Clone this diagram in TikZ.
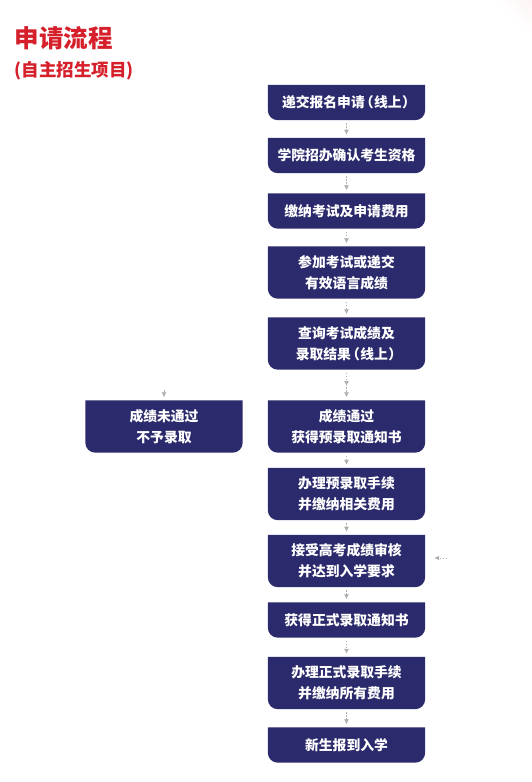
\documentclass[tikz,border=0pt]{standalone}
\usepackage{fontspec}
\newfontfamily\cjk{Noto Sans CJK SC}
\usetikzlibrary{backgrounds,arrows.meta}
\definecolor{navy}{HTML}{2B2A6C}
\definecolor{titlered}{HTML}{D5202B}
\definecolor{arrowgray}{HTML}{B0B0B0}
\definecolor{pinkish}{HTML}{F9DADA}
\tikzset{
  stepbox/.style={text=white, font=\cjk\bfseries\fontsize{13.8}{21}\selectfont,
    align=center, minimum width=157pt, inner sep=0pt},
  onebox/.style={stepbox, minimum height=35pt},
  twobox/.style={stepbox, minimum height=52pt},
  flow/.style={draw=arrowgray, line width=0.8pt, dash pattern=on 1.5pt off 1.5pt,
    -{Latex[length=5pt,width=5pt]}, shorten <=3pt, shorten >=3pt}
}
\newcommand{\boxbg}[1]{%
  \fill[navy] (#1.north west) -- ([yshift=10pt]#1.south west)
    arc[start angle=180, end angle=270, radius=10pt]
    -- ([xshift=-10pt]#1.south east)
    arc[start angle=270, end angle=360, radius=10pt]
    -- (#1.north east) -- cycle;}
\newcommand{\online}{\kern-5pt（\kern0.5pt线上\kern0.5pt）\kern-5pt}
\begin{document}
\begin{tikzpicture}[x=1pt,y=-1pt]
\useasboundingbox (0,0) rectangle (532,782);
\node[anchor=west, text=titlered, font=\cjk\bfseries\fontsize{24.5}{27}\selectfont] (title) at (11,38) {申请流程};
\node[anchor=west, text=titlered, font=\cjk\bfseries\fontsize{17.5}{20}\selectfont] (sub) at (11,71) {(自主招生项目)};

\node[onebox] (b1) at (346.5,102.5) {递交报名申请\online};
\node[onebox] (b2) at (346.5,155.5) {学院招办确认考生资格};
\node[onebox] (b3) at (346.5,211) {缴纳考试及申请费用};
\node[twobox] (b4) at (346.5,272.5) {参加考试或递交\\有效语言成绩};
\node[twobox] (b5) at (346.5,343.5) {查询考试成绩及\\录取结果\online};
\node[twobox] (b6) at (346.5,426.5) {成绩通过\\获得预录取通知书};
\node[twobox] (b7) at (346.5,494) {办理预录取手续\\并缴纳相关费用};
\node[twobox] (b8) at (346.5,561) {接受高考成绩审核\\并达到入学要求};
\node[onebox] (b9) at (346.5,620) {获得正式录取通知书};
\node[twobox] (b10) at (346.5,683) {办理正式录取手续\\并缴纳所有费用};
\node[onebox] (b11) at (346.5,745) {新生报到入学};
\node[twobox] (fail) at (164,426.5) {成绩未通过\\不予录取};

\begin{scope}[on background layer]
\fill[white] (0,0) rectangle (532,782);
\begin{scope}
\clip (0,0) rectangle (532,782);
\shade[inner color=pinkish, outer color=white] (585,-55) circle (105);
\end{scope}
\boxbg{b1}\boxbg{b2}\boxbg{b3}\boxbg{b4}\boxbg{b5}\boxbg{b6}
\boxbg{b7}\boxbg{b8}\boxbg{b9}\boxbg{b10}\boxbg{b11}\boxbg{fail}
\end{scope}

\draw[flow] (b1) -- (b2);
\draw[flow] (b2) -- (b3);
\draw[flow] (b3) -- (b4);
\draw[flow] (b4) -- (b5);
\coordinate (mid56) at (346.5,386);
\draw[flow, shorten >=0pt] (b5) -- (mid56);
\draw[flow, shorten <=1pt] (mid56) -- (b6);
\draw[flow] (b6) -- (b7);
\draw[flow] (b7) -- (b8);
\draw[flow] (b8) -- (b9);
\draw[flow] (b9) -- (b10);
\draw[flow] (b10) -- (b11);
\coordinate (failin) at (164,390);
\draw[flow, shorten <=0pt] (failin) -- (fail);
\coordinate (rightin) at (447,558);
\draw[flow, shorten <=0pt, shorten >=9pt] (rightin) -- (b8.east |- rightin);
\end{tikzpicture}
\end{document}
